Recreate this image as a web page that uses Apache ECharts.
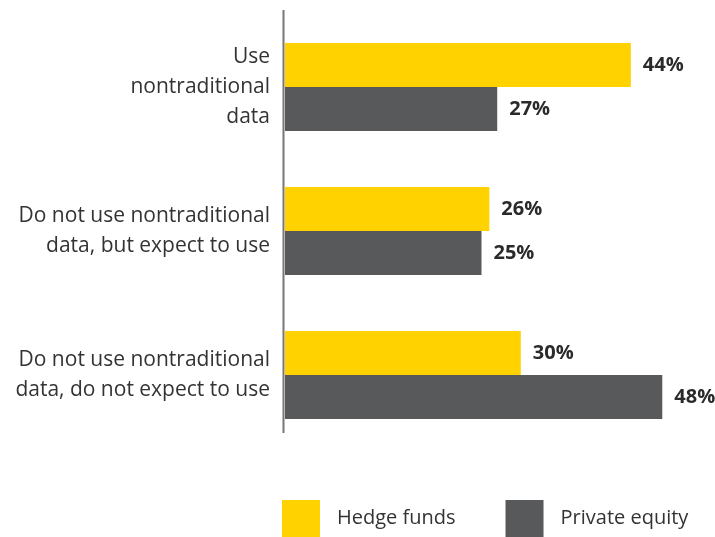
<!DOCTYPE html>
<html>
<head>
<meta charset="utf-8">
<script src="https://cdn.jsdelivr.net/npm/echarts@6/dist/echarts.min.js"></script>
<style>
  html, body { margin: 0; padding: 0; background: #fff; }
  #main { width: 715px; height: 537px; }
</style>
</head>
<body>
<div id="main"></div>
<script>
// categories, top to bottom
var categories = [
    'Use\nnontraditional\ndata',
    'Do not use nontraditional\ndata, but expect to use',
    'Do not use nontraditional\ndata, do not expect to use'
];
var hedgeFunds = [44, 26, 30];
var privateEquity = [27, 25, 48];
var seriesNames = ['Hedge funds', 'Private equity'];

var dom = document.getElementById('main');
var myChart = echarts.init(dom, null, { renderer: 'canvas' });

var labelStyle = {
    show: true,
    position: 'right',
    distance: 12,
    formatter: '{c}%',
    color: '#2a2a2a',
    fontFamily: 'Open Sans',
    fontWeight: 'bold',
    fontSize: 20
};

var option = {
    animation: false,
    textStyle: { fontFamily: 'Open Sans' },
    grid: { left: 285, right: 37, top: 15, height: 432 },
    xAxis: {
        type: 'value',
        min: 0,
        max: 50,
        show: false
    },
    yAxis: {
        type: 'category',
        data: categories,
        inverse: true,
        axisLine: { show: false },
        axisTick: { show: false },
        axisLabel: {
            margin: 15,
            align: 'right',
            color: '#333',
            fontFamily: 'Open Sans',
            fontSize: 21,
            lineHeight: 30
        }
    },
    legend: {
        left: 282,
        top: 500,
        padding: 0,
        itemWidth: 38,
        itemHeight: 37,
        itemGap: 50,
        icon: 'rect',
        textStyle: {
            color: '#333',
            fontFamily: 'Open Sans',
            fontSize: 20,
            padding: [0, 0, 0, 12]
        },
        data: seriesNames
    },
    // vertical axis line
    graphic: [{
        type: 'line',
        shape: { x1: 283.5, y1: 10, x2: 283.5, y2: 433 },
        style: { stroke: '#777', lineWidth: 2 }
    }],
    series: [
        {
            name: seriesNames[0],
            type: 'bar',
            data: hedgeFunds,
            barWidth: 44,
            barGap: '0%',
            itemStyle: { color: '#FFD200' },
            label: labelStyle
        },
        {
            name: seriesNames[1],
            type: 'bar',
            data: privateEquity,
            barWidth: 44,
            barGap: '0%',
            itemStyle: { color: '#58595B' },
            label: labelStyle
        }
    ]
};

myChart.setOption(option);
window.addEventListener('resize', myChart.resize);
</script>
</body>
</html>
